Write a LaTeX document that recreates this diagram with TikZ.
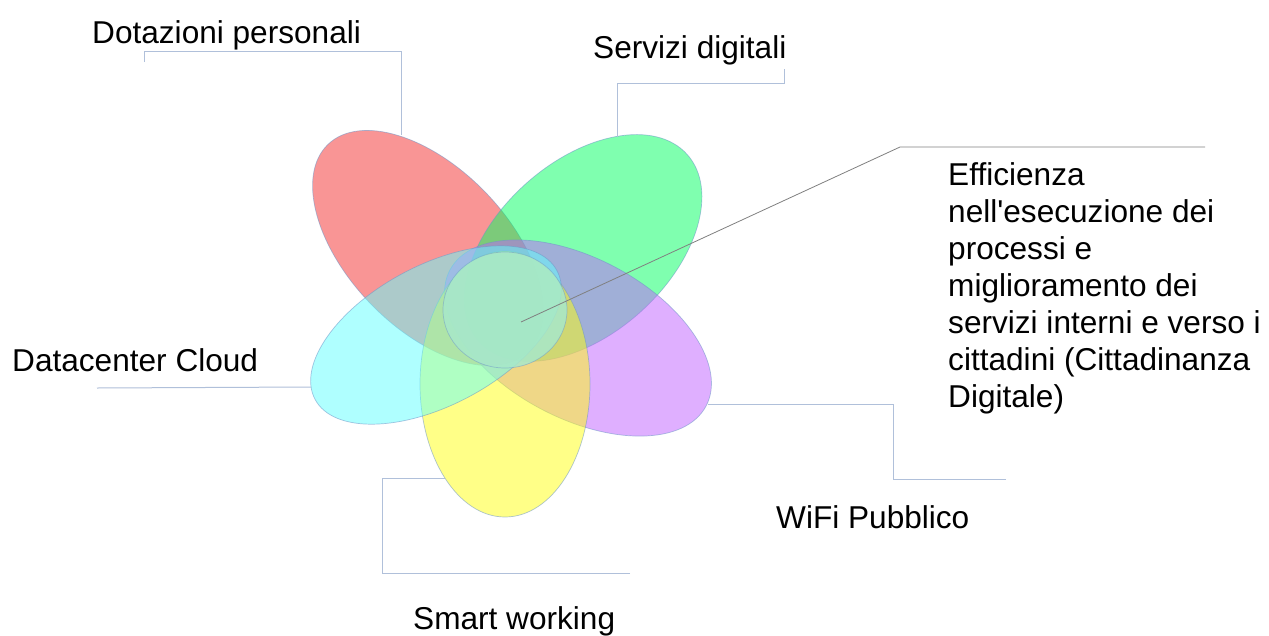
\documentclass[tikz,border=0pt]{standalone}
\usepackage{fontspec}
\setmainfont{Liberation Sans}[Ligatures=TeXOff]
\usetikzlibrary{shapes.geometric}
\definecolor{redp}{RGB}{245,45,45}
\definecolor{greenp}{RGB}{1,255,97}
\definecolor{cyanp}{RGB}{97,255,255}
\definecolor{yellowp}{RGB}{255,255,17}
\definecolor{purplep}{RGB}{193,97,255}
\definecolor{corec}{RGB}{168,232,202}
\definecolor{petalline}{RGB}{110,150,200}
\definecolor{leadc}{RGB}{176,192,218}
\definecolor{effc}{RGB}{128,128,128}
\begin{document}
\begin{tikzpicture}[x=1pt,y=-1pt,
  petal/.style={ellipse, inner sep=0pt, draw=petalline, line width=0.7pt, draw opacity=0.55, fill opacity=0.5},
  lab/.style={anchor=base west, inner sep=0pt, font=\fontsize{31.6}{37}\selectfont},
  leader/.style={draw=leadc, line width=1pt},
  effline/.style={draw=effc, line width=0.8pt}]
\useasboundingbox (0,0) rectangle (1269,635);
\fill[white] (0,0) rectangle (1269,635);

% petals
\node[petal, fill=redp, minimum width=288pt, minimum height=160pt, rotate=-46] (red) at (428,248) {};
\node[petal, fill=greenp, minimum width=280pt, minimum height=172pt, rotate=42] (green) at (583,248) {};
\node[petal, fill=purplep, minimum width=290pt, minimum height=160pt, rotate=-28] (purple) at (578,338) {};
\node[petal, fill=yellowp, minimum width=170pt, minimum height=266pt] (yellow) at (505,384) {};
\node[petal, fill=cyanp, minimum width=274pt, minimum height=140pt, rotate=28] (cyan) at (436,335) {};
\node[ellipse, inner sep=0pt, minimum width=124pt, minimum height=116pt, fill=corec, fill opacity=0.85, draw=petalline, draw opacity=0.5, line width=0.7pt] (core) at (505,310) {};

% labels
\node[lab] (dot) at (92,43) {Dotazioni personali};
\node[lab] (serv) at (593,58) {Servizi digitali};
\node[lab] (data) at (12,371) {Datacenter Cloud};
\node[lab] (wifi) at (776,528) {WiFi Pubblico};
\node[lab] (smart) at (413,629) {Smart working};
\node[anchor=north west, inner sep=0pt, align=left, font=\fontsize{31.6}{37}\selectfont] (eff) at (948,162)
  {Efficienza\\nell'esecuzione dei\\processi e\\miglioramento dei\\servizi interni e verso i\\cittadini (Cittadinanza\\Digitale)};

% leader end points
\coordinate (dotS) at (144,62);
\coordinate (dotE) at (401,135);
\coordinate (servS) at (784,69);
\coordinate (servE) at (617,137);
\coordinate (dataS) at (97,388);
\coordinate (dataE) at (311,387);
\coordinate (wifiS) at (1006,479);
\coordinate (wifiE) at (708,404);
\coordinate (smartS) at (630,573);
\coordinate (smartE) at (445,478);
\coordinate (effS) at (1205,147);
\coordinate (effK) at (900,147);
\coordinate (effE) at (521,322);

\draw[leader] (dotS) -- (144,51) -| (dotE);
\draw[leader] (servS) -- (784,83) -| (servE);
\draw[leader] (dataS) -- (dataE);
\draw[leader] (wifiS) -| (893,404) -- (wifiE);
\draw[leader] (smartS) -| (382,478) -- (smartE);
\draw[effline] (effS) -- (effK) -- (effE);
\end{tikzpicture}
\end{document}
